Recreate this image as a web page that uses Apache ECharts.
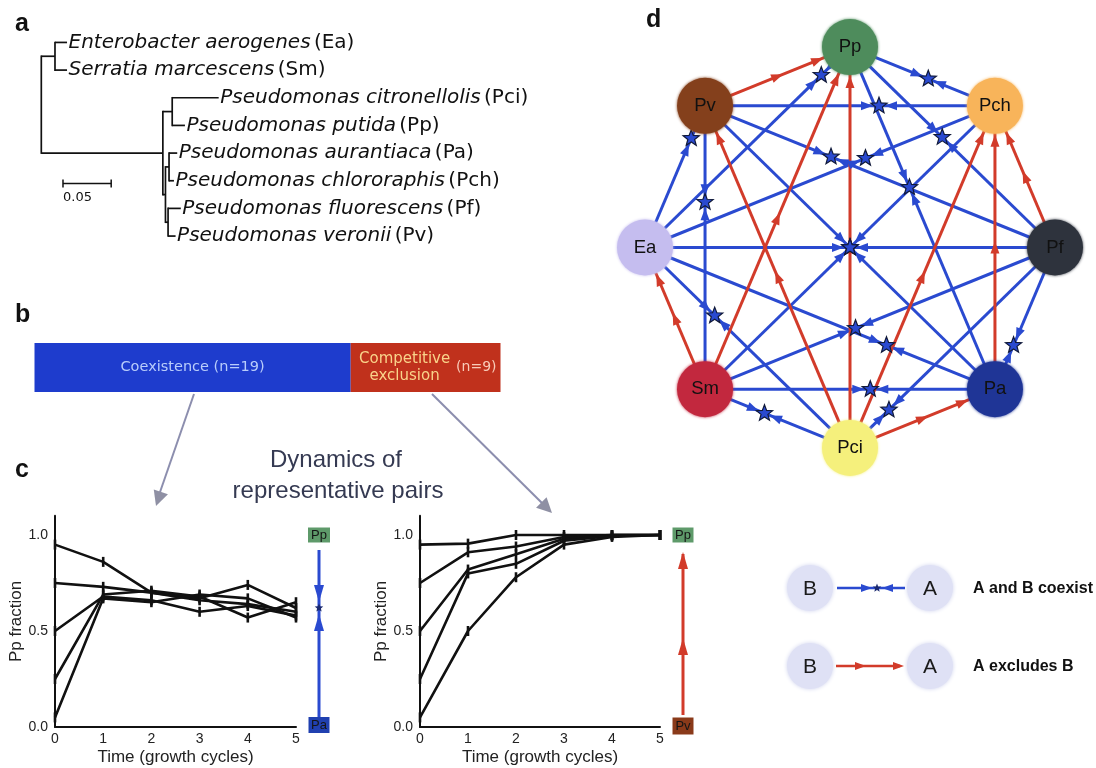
<!DOCTYPE html>
<html><head><meta charset="utf-8">
<script src="https://cdn.jsdelivr.net/npm/echarts@6/dist/echarts.min.js"></script>
<style>html,body{margin:0;padding:0;background:#fff}#c{width:1096px;height:768px}</style>
</head><body><div id="c"></div>
<script>
// ================= DATA =================
// Panel a: phylogenetic tree
const speciesNames = ['Enterobacter aerogenes','Serratia marcescens','Pseudomonas citronellolis','Pseudomonas putida','Pseudomonas aurantiaca','Pseudomonas chlororaphis','Pseudomonas fluorescens','Pseudomonas veronii'];
const speciesCodes = ['Ea','Sm','Pci','Pp','Pa','Pch','Pf','Pv'];
const treeNodeIds = ['root','entero','Ea','Sm','pseudo','pciPp','Pci','Pp','fluor','paPch','Pa','Pch','pfPv','Pf','Pv'];
const treeParents = [null,'root','entero','entero','root','pseudo','pciPp','pciPp','pseudo','fluor','paPch','paPch','fluor','pfPv','pfPv'];
const treeBranchLengths = [0,0.0142,0.0125,0.0125,0.1261,0.0097,0.0482,0.0132,0.0027,0.0037,0.0085,0.0051,0.0027,0.0132,0.0078];
const scaleBarLength = 0.05;

// Panel b: outcomes of pairwise competition
const outcomeNames = ['Coexistence','Competitive exclusion'];
const outcomeCounts = [19, 9];

// Panel c: Pp fraction over growth cycles
const timePoints = [0,1,2,3,4,5];
const coexistRuns = [            // Pp vs Pa
  [0.95,0.86,0.70,0.66,0.64,0.60],
  [0.75,0.73,0.70,0.67,0.74,0.62],
  [0.50,0.68,0.66,0.60,0.63,0.58],
  [0.25,0.69,0.71,0.68,0.57,0.65],
  [0.05,0.67,0.65,0.69,0.67,0.57]
];
const coexistEquilibrium = 0.62;
const exclusionRuns = [          // Pp vs Pv
  [0.95,0.955,1.00,1.00,1.00,1.00],
  [0.75,0.91,0.94,0.99,1.00,1.00],
  [0.50,0.82,0.90,0.98,1.00,1.00],
  [0.25,0.80,0.85,0.97,0.995,1.00],
  [0.05,0.50,0.78,0.95,0.99,1.00]
];
const exclusionFinal = 1.0;
const yTicks = [0, 0.5, 1.0];

// Panel d: network (clockwise from top)
const networkSpecies = ['Pp','Pch','Pf','Pa','Pci','Sm','Ea','Pv'];
// [species A, species B, position of coexistence point along A->B]
const coexistPairs = [
  ['Pp','Pch',0.54],['Pv','Pch',0.60],['Pp','Pf',0.45],['Pp','Pa',0.41],['Pp','Ea',0.14],
  ['Pv','Ea',0.23],['Pv','Sm',0.34],['Pv','Pf',0.36],['Pch','Ea',0.37],['Pch','Sm',0.50],
  ['Pv','Pa',0.50],['Ea','Pf',0.50],['Pf','Pa',0.69],['Pf','Sm',0.57],['Pf','Pci',0.81],
  ['Pa','Sm',0.43],['Pci','Sm',0.59],['Pci','Ea',0.66],['Ea','Pa',0.69]
];
// [excluded species, winner]
const exclusionPairs = [
  ['Pv','Pp'],['Sm','Pp'],['Pci','Pp'],['Pci','Pv'],['Pci','Pch'],['Pa','Pch'],['Pf','Pch'],['Sm','Ea'],['Pci','Pa']
];

// ================= STYLES =================
const BLUE = '#2a4ad0', RED = '#d23b2a';
const nodeColors = {Pp:'#4e8c5c',Pch:'#f8b45a',Pf:'#2e333d',Pa:'#1f3596',Pci:'#f5f07c',Sm:'#c2283e',Ea:'#c5bdef',Pv:'#84401c'};
const SANS = 'Liberation Sans, Arial, sans-serif';
const DJV = 'DejaVu Sans, sans-serif';

// ================= HELPERS =================
function arrowPts(tx, ty, ux, uy, len, hw){
  return [[tx,ty],[tx-ux*len-uy*hw, ty-uy*len+ux*hw],[tx-ux*len+uy*hw, ty-uy*len-ux*hw]];
}
function starPts(cx, cy, R, r){
  const p=[];
  for(let i=0;i<10;i++){const a=-Math.PI/2+i*Math.PI/5; const rr=i%2?r:R; p.push([cx+rr*Math.cos(a), cy+rr*Math.sin(a)]);}
  return p;
}
function poly(points, fill, z2, stroke, lw){
  return {type:'polygon', shape:{points}, style:{fill, stroke: stroke||null, lineWidth: lw||0}, z2: z2||5};
}
function seg(x1,y1,x2,y2,stroke,lw,z2){
  return {type:'line', shape:{x1,y1,x2,y2}, style:{stroke, lineWidth:lw}, z2: z2||0};
}

// ---- tree layout ----
const tX={}, tY={}, kids={};
treeNodeIds.forEach((id,i)=>{const p=treeParents[i]; tX[id]=(p?tX[p]:0)+treeBranchLengths[i]; if(p)(kids[p]=kids[p]||[]).push(id);});
function yOf(id){
  if(tY[id]!==undefined) return tY[id];
  if(!kids[id]) return (tY[id]=speciesCodes.indexOf(id));
  const ys=kids[id].map(yOf); return (tY[id]=(Math.min(...ys)+Math.max(...ys))/2);
}
const treeData = treeNodeIds.map((id,i)=>{
  const k=kids[id]; const y=yOf(id); const ys=k?k.map(yOf):[y,y];
  const p=treeParents[i];
  return [tX[id], y, p?tX[p]:tX[id], Math.min(...ys), Math.max(...ys), k?-1:speciesCodes.indexOf(id)];
});

// ---- network layout (circular) ----
const nodePos = networkSpecies.map((s,k)=>{const a=Math.PI/2-k*Math.PI/4; return [Math.cos(a), Math.sin(a)];});
const ni = s => networkSpecies.indexOf(s);
const edgeData = coexistPairs.map(([a,b,t])=>[...nodePos[ni(a)],...nodePos[ni(b)],t,0])
  .concat(exclusionPairs.map(([l,w])=>[...nodePos[ni(l)],...nodePos[ni(w)],0.5,1]));

// ================= CHART =================
const chart = echarts.init(document.getElementById('c'));

const runSeries = (runs, ax) => runs.map(r => ({
  type:'line', xAxisIndex:ax, yAxisIndex:ax, data: timePoints.map((t,i)=>[t, r[i]]),
  lineStyle:{color:'#111', width:2.6}, itemStyle:{color:'#111'}, symbol:'rect', symbolSize:[2.6,10],
  showSymbol:true, z:3, silent:true
}));

const cAxisX = (ax) => ({
  gridIndex:ax, type:'value', min:0, max:5, interval:1,
  axisLine:{show:true, onZero:false, lineStyle:{color:'#111', width:2}}, axisTick:{show:false}, splitLine:{show:false},
  axisLabel:{color:'#222', fontSize:14, fontFamily:SANS, margin:5},
  name:'Time (growth cycles)', nameLocation:'middle', nameGap:22, nameTextStyle:{color:'#222', fontSize:17, fontFamily:SANS}
});
const cAxisY = (ax) => ({
  gridIndex:ax, type:'value', min:0, max:1.1, interval:0.5,
  axisLine:{show:true, onZero:false, lineStyle:{color:'#111', width:2}}, axisTick:{show:false}, splitLine:{show:false},
  axisLabel:{color:'#222', fontSize:14, fontFamily:SANS, margin:7,
    formatter: v => yTicks.some(t=>Math.abs(t-v)<1e-6) ? v.toFixed(1) : ''},
  name:'Pp fraction', nameLocation:'middle', nameGap:30, nameRotate:90, nameTextStyle:{color:'#222', fontSize:17, fontFamily:SANS}
});

function boxLabel(cx, cy, w, h, fill, text){
  return [
    {type:'rect', shape:{x:cx-w/2, y:cy-h/2, width:w, height:h}, style:{fill}, z2:6},
    {type:'text', style:{text, x:cx, y:cy+0.5, align:'center', verticalAlign:'middle', fill:'#151515', fontSize:13, fontFamily:SANS}, z2:7}
  ];
}

const option = {
  animation:false,
  backgroundColor:'#fff',
  grid:[
    {left:34.5, top:343, width:466, height:49},
    {left:55, top:515.8, width:241, height:211.2},
    {left:420, top:515.8, width:240, height:211.2},
    {left:41.3, top:28.6, width:482, height:221.3},
    {left:604, top:7, width:492, height:481}
  ],
  xAxis:[
    {gridIndex:0, type:'value', min:0, max:28, show:false},
    cAxisX(1), cAxisX(2),
    {gridIndex:3, type:'value', min:0, max:0.5, show:false},
    {gridIndex:4, type:'value', min:-1.2, max:1.2, show:false}
  ],
  yAxis:[
    {gridIndex:0, type:'category', data:['pairs'], show:false},
    cAxisY(1), cAxisY(2),
    {gridIndex:3, type:'value', min:-0.5, max:7.5, inverse:true, show:false},
    {gridIndex:4, type:'value', min:-1.2, max:1.2, show:false}
  ],
  series:[
    // ---- panel b ----
    {type:'bar', xAxisIndex:0, yAxisIndex:0, stack:'o', barWidth:'100%', data:[outcomeCounts[0]],
     itemStyle:{color:'#1e3ccd'}, silent:true,
     label:{show:true, position:'inside', formatter:`${outcomeNames[0]} (n=${outcomeCounts[0]})`, color:'#b9cdfb', fontSize:14.5, fontFamily:DJV}},
    {type:'bar', xAxisIndex:0, yAxisIndex:0, stack:'o', barWidth:'100%', data:[outcomeCounts[1]],
     itemStyle:{color:'#c0311c'}, silent:true,
     label:{show:true, position:'inside', offset:[-21,0], formatter: outcomeNames[1].replace(' ','\n'), color:'#f9d38a', fontSize:15, lineHeight:17, fontFamily:DJV},
     markPoint:{symbol:'circle', symbolSize:0, silent:true,
       data:[{coord:[outcomeCounts[0]+outcomeCounts[1], 0], label:{show:true, position:'left', distance:4, formatter:`(n=${outcomeCounts[1]})`, color:'#f8cbb8', fontSize:14, fontFamily:DJV}}]}},
    // ---- panel c ----
    ...runSeries(coexistRuns,1),
    ...runSeries(exclusionRuns,2),
    {type:'custom', xAxisIndex:1, yAxisIndex:1, clip:false, silent:true, data:[[5, coexistEquilibrium]],
     renderItem:(params, api)=>{
       const top=api.coord([5,1.0]), bot=api.coord([5,0]), eq=api.coord([api.value(0), api.value(1)]);
       const x=top[0]+23;
       return {type:'group', children:[
         seg(x, top[1]+15, x, bot[1]-9, BLUE, 3),
         poly(arrowPts(x, eq[1]-6, 0, 1, 17, 5), BLUE),
         poly(arrowPts(x, eq[1]+6, 0, -1, 17, 5), BLUE),
         poly(starPts(x, eq[1], 4.5, 2), '#1b2a70', 8),
         ...boxLabel(x, top[1], 22, 15, '#5e9a6a', 'Pp'),
         ...boxLabel(x, bot[1]-2, 21, 16, '#2040b0', 'Pa')
       ]};
     }},
    {type:'custom', xAxisIndex:2, yAxisIndex:2, clip:false, silent:true, data:[[5, exclusionFinal]],
     renderItem:(params, api)=>{
       const top=api.coord([5,api.value(1)]), bot=api.coord([5,0]);
       const x=top[0]+23; const mid=(top[1]+bot[1])/2;
       return {type:'group', children:[
         seg(x, top[1]+19, x, bot[1]-12, RED, 3),
         poly(arrowPts(x, top[1]+17, 0, -1, 17, 5), RED),
         poly(arrowPts(x, mid+7, 0, -1, 17, 5), RED),
         ...boxLabel(x, top[1], 21, 15, '#5e9a6a', 'Pp'),
         ...boxLabel(x, bot[1]-1, 21, 17, '#8a3a1a', 'Pv')
       ]};
     }},
    // ---- panel a: tree ----
    {type:'custom', xAxisIndex:3, yAxisIndex:3, clip:false, silent:true, data:treeData,
     dimensions:['x','y','px','y0','y1','leaf'], encode:{x:0, y:1},
     renderItem:(params, api)=>{
       const x=api.value(0), y=api.value(1), px=api.value(2), y0=api.value(3), y1=api.value(4), leaf=api.value(5);
       const ch=[];
       const p1=api.coord([px,y]), p2=api.coord([x,y]);
       if(x>px) ch.push(seg(p1[0],p1[1],p2[0],p2[1],'#111',1.7));
       if(leaf<0){const a=api.coord([x,y0]), b=api.coord([x,y1]); ch.push(seg(a[0],a[1]-0.8,b[0],b[1]+0.8,'#111',1.7));}
       else ch.push({type:'text', style:{text:`{i|${speciesNames[leaf]}} {n|(${speciesCodes[leaf]})}`, x:p2[0]+1.5, y:p2[1], verticalAlign:'middle', align:'left',
         rich:{i:{fontStyle:'italic', fontFamily:DJV, fontSize:20, fill:'#111', color:'#111'}, n:{fontFamily:DJV, fontSize:20, fill:'#111', color:'#111'}}}});
       return {type:'group', children:ch};
     }},
    {type:'custom', xAxisIndex:3, yAxisIndex:3, clip:false, silent:true, data:[[scaleBarLength, 5.1]],
     renderItem:(params, api)=>{
       const x0=0.0225; const a=api.coord([x0, api.value(1)]), b=api.coord([x0+api.value(0), api.value(1)]);
       return {type:'group', children:[
         seg(a[0],a[1],b[0],b[1],'#111',1.5), seg(a[0],a[1]-4,a[0],a[1]+4,'#111',1.5), seg(b[0],b[1]-4,b[0],b[1]+4,'#111',1.5),
         {type:'text', style:{text:String(api.value(0)), x:a[0], y:a[1]+8, align:'left', verticalAlign:'top', fill:'#111', fontSize:13, fontFamily:DJV}}
       ]};
     }},
    // ---- panel d: network edges ----
    {type:'custom', xAxisIndex:4, yAxisIndex:4, clip:false, silent:true, z:1, data:edgeData,
     dimensions:['x1','y1','x2','y2','t','k'], encode:{x:[0,2], y:[1,3]},
     renderItem:(params, api)=>{
       const A=api.coord([api.value(0),api.value(1)]), B=api.coord([api.value(2),api.value(3)]);
       const t=api.value(4), kind=api.value(5);
       const dx=B[0]-A[0], dy=B[1]-A[1], L=Math.hypot(dx,dy), ux=dx/L, uy=dy/L;
       const col=kind?RED:BLUE;
       const ch=[seg(A[0],A[1],B[0],B[1],col,3,0)];
       if(!kind){
         const sx=A[0]+dx*t, sy=A[1]+dy*t;
         ch.push(poly(arrowPts(sx-ux*6, sy-uy*6, ux, uy, 12, 4.5), col, 5));
         ch.push(poly(arrowPts(sx+ux*6, sy+uy*6, -ux, -uy, 12, 4.5), col, 5));
         ch.push(poly(starPts(sx, sy, 8.5, 3.6), col, 10, '#111a3a', 1.2));
       } else {
         const mx=A[0]+dx*0.5+ux*6, my=A[1]+dy*0.5+uy*6;
         ch.push(poly(arrowPts(mx, my, ux, uy, 12, 4.5), col, 5));
         ch.push(poly(arrowPts(B[0]-ux*29, B[1]-uy*29, ux, uy, 12, 4.5), col, 5));
       }
       return {type:'group', children:ch};
     }},
    // ---- panel d: nodes ----
    {type:'scatter', xAxisIndex:4, yAxisIndex:4, z:5, silent:true, symbolSize:56,
     data: networkSpecies.map((s,k)=>({name:s, value:nodePos[k], itemStyle:{color:nodeColors[s], opacity:1, shadowBlur:3, shadowColor:nodeColors[s]}})),
     label:{show:true, position:'inside', formatter:'{b}', color:'#111', fontSize:18.5, fontFamily:SANS}}
  ],
  graphic:[
    // panel letters
    {type:'text', left:15, top:12, style:{text:'a', fill:'#111', fontSize:25, fontWeight:'bold', fontFamily:SANS}},
    {type:'text', left:15, top:303, style:{text:'b', fill:'#111', fontSize:25, fontWeight:'bold', fontFamily:SANS}},
    {type:'text', left:15, top:458, style:{text:'c', fill:'#111', fontSize:25, fontWeight:'bold', fontFamily:SANS}},
    {type:'text', left:646, top:8, style:{text:'d', fill:'#111', fontSize:25, fontWeight:'bold', fontFamily:SANS}},
    // title of panel c
    {type:'text', x:336, y:460, style:{text:'Dynamics of', x:0, y:0, align:'center', verticalAlign:'middle', fill:'#353a52', fontSize:24, fontFamily:SANS}},
    {type:'text', x:338, y:491, style:{text:'representative pairs', x:0, y:0, align:'center', verticalAlign:'middle', fill:'#353a52', fontSize:24, fontFamily:SANS}},
    // connector arrows b -> c
    {type:'line', shape:{x1:194, y1:394, x2:159, y2:495}, style:{stroke:'#8c8eae', lineWidth:2}},
    {type:'polygon', shape:{points:arrowPts(156, 506, -0.324, 0.946, 15, 7.5)}, style:{fill:'#8f90a4'}},
    {type:'line', shape:{x1:432, y1:394, x2:543, y2:504}, style:{stroke:'#8c8eae', lineWidth:2}},
    {type:'polygon', shape:{points:arrowPts(552, 513, 0.712, 0.702, 15, 7.5)}, style:{fill:'#8f90a4'}},
    // legend of panel d
    {type:'circle', shape:{cx:810, cy:588, r:23}, style:{fill:'#dfe1f5', shadowBlur:4, shadowColor:'#cfd3ee'}},
    {type:'circle', shape:{cx:930, cy:588, r:23}, style:{fill:'#dfe1f5', shadowBlur:4, shadowColor:'#cfd3ee'}},
    {type:'circle', shape:{cx:810, cy:666, r:23}, style:{fill:'#dfe1f5', shadowBlur:4, shadowColor:'#cfd3ee'}},
    {type:'circle', shape:{cx:930, cy:666, r:23}, style:{fill:'#dfe1f5', shadowBlur:4, shadowColor:'#cfd3ee'}},
    {type:'text', x:810, y:589, style:{text:'B', x:0, y:0, align:'center', verticalAlign:'middle', fill:'#1a1a1a', fontSize:21, fontFamily:SANS}},
    {type:'text', x:930, y:589, style:{text:'A', x:0, y:0, align:'center', verticalAlign:'middle', fill:'#1a1a1a', fontSize:21, fontFamily:SANS}},
    {type:'text', x:810, y:667, style:{text:'B', x:0, y:0, align:'center', verticalAlign:'middle', fill:'#1a1a1a', fontSize:21, fontFamily:SANS}},
    {type:'text', x:930, y:667, style:{text:'A', x:0, y:0, align:'center', verticalAlign:'middle', fill:'#1a1a1a', fontSize:21, fontFamily:SANS}},
    {type:'line', shape:{x1:837, y1:588, x2:905, y2:588}, style:{stroke:BLUE, lineWidth:2.5}},
    {type:'polygon', shape:{points:arrowPts(872, 588, 1, 0, 11, 4)}, style:{fill:BLUE}},
    {type:'polygon', shape:{points:arrowPts(882, 588, -1, 0, 11, 4)}, style:{fill:BLUE}},
    {type:'polygon', shape:{points:starPts(877, 588, 4.5, 2)}, style:{fill:'#1b2a70'}},
    {type:'line', shape:{x1:836, y1:666, x2:900, y2:666}, style:{stroke:RED, lineWidth:2.5}},
    {type:'polygon', shape:{points:arrowPts(866, 666, 1, 0, 11, 4)}, style:{fill:RED}},
    {type:'polygon', shape:{points:arrowPts(904, 666, 1, 0, 11, 4)}, style:{fill:RED}},
    {type:'text', x:973, y:589, style:{text:'A and B coexist', x:0, y:0, align:'left', verticalAlign:'middle', fill:'#111', fontSize:16, fontWeight:'bold', fontFamily:SANS}},
    {type:'text', x:973, y:667, style:{text:'A excludes B', x:0, y:0, align:'left', verticalAlign:'middle', fill:'#111', fontSize:16, fontWeight:'bold', fontFamily:SANS}}
  ]
};
chart.setOption(option);
</script>
</body></html>
